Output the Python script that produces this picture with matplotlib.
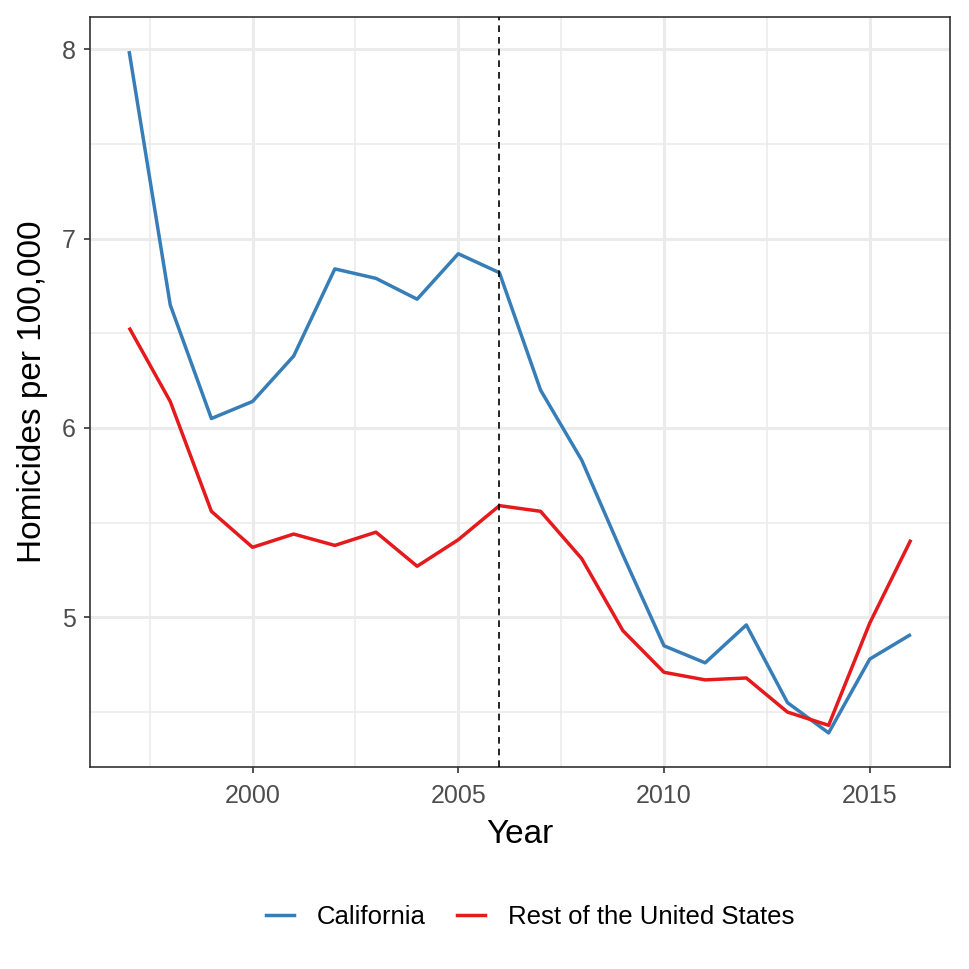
import matplotlib
matplotlib.use("Agg")
import matplotlib.pyplot as plt
from matplotlib.lines import Line2D

plt.rcParams['font.family'] = ['Liberation Sans', 'DejaVu Sans']

years = list(range(1997, 2017))
california = [7.99, 6.65, 6.05, 6.14, 6.38, 6.84, 6.79, 6.68, 6.92, 6.82,
              6.20, 5.83, 5.33, 4.85, 4.76, 4.96, 4.55, 4.39, 4.78, 4.91]
rest_us = [6.53, 6.14, 5.56, 5.37, 5.44, 5.38, 5.45, 5.27, 5.41, 5.59,
           5.56, 5.31, 4.93, 4.71, 4.67, 4.68, 4.50, 4.43, 4.97, 5.41]
series_names = ["California", "Rest of the United States"]
series_colors = ["#377EB8", "#E41A1C"]
event_year = 2006

fig = plt.figure(figsize=(9.69, 9.69), dpi=100)
ax = fig.add_axes([90/969, 1-767/969, 860/969, 750/969])

for vals, name, col in zip([california, rest_us], series_names, series_colors):
    ax.plot(years, vals, color=col, linewidth=2.5, label=name, zorder=3,
            solid_joinstyle='round', solid_capstyle='butt')

ax.axvline(event_year, color='black', linestyle=(0, (4, 3)), linewidth=1.2, zorder=4)

allv = california + rest_us
ymin, ymax = min(allv), max(allv)
yr = ymax - ymin
ax.set_ylim(ymin - 0.05*yr, ymax + 0.05*yr)
xr = years[-1] - years[0]
ax.set_xlim(years[0] - 0.05*xr, years[-1] + 0.05*xr)

ax.set_xticks([2000, 2005, 2010, 2015])
ax.set_xticks([1997.5, 2002.5, 2007.5, 2012.5], minor=True)
ax.set_yticks([5, 6, 7, 8])
ax.set_yticks([4.5, 5.5, 6.5, 7.5], minor=True)

ax.grid(which='major', color='#EBEBEB', linewidth=2.2, zorder=0)
ax.grid(which='minor', color='#EBEBEB', linewidth=1.1, zorder=0)
ax.set_axisbelow(True)

for s in ax.spines.values():
    s.set_color('#333333')
    s.set_linewidth(1.2)

ax.tick_params(which='major', length=4.5, width=1.2, color='#333333',
               labelsize=18, labelcolor='#4D4D4D')
ax.tick_params(axis='x', which='major', pad=8)
ax.tick_params(axis='y', which='major', pad=6)
ax.tick_params(which='minor', length=0)

ax.set_xlabel("Year", fontsize=24, labelpad=8)
ax.set_ylabel("Homicides per 100,000", fontsize=24, labelpad=10)

handles = [Line2D([0], [0], color=c, linewidth=2.5) for c in series_colors]
fig.legend(handles, series_names, loc='center', bbox_to_anchor=(530/969, 1-917/969),
           ncol=2, frameon=False, fontsize=18.5, handlelength=1.1, handletextpad=0.9,
           columnspacing=1.2)

fig.savefig("out.png", dpi=100)
